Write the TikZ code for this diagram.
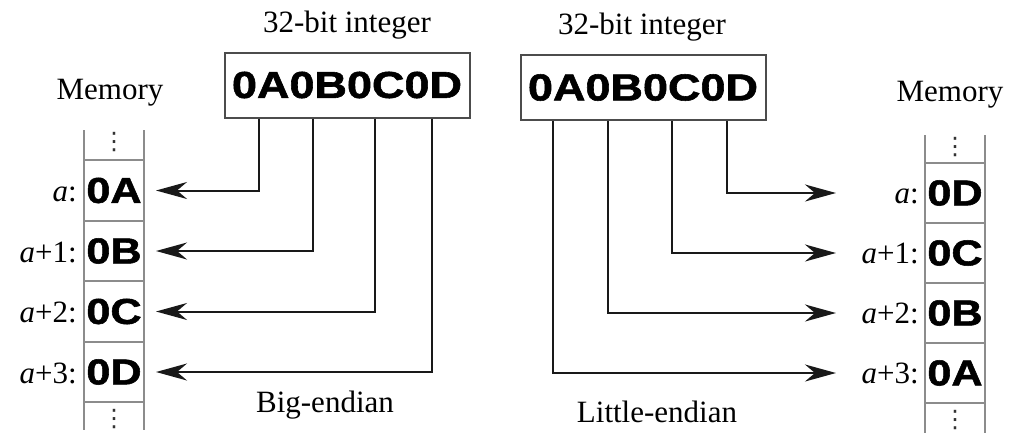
\documentclass[tikz,border=0pt]{standalone}
\usepackage{fontspec}
\setmainfont{Liberation Serif}
\newfontfamily\hexfont{Liberation Sans}[FakeStretch=1.2, BoldFeatures={FakeBold=1.5}]
\newfontfamily\symfont{DejaVu Sans}
\usetikzlibrary{arrows.meta}
\begin{document}
\begin{tikzpicture}[x=1pt,y=-1pt,
  ttl/.style={font=\fontsize{31}{36}\selectfont, inner sep=0pt},
  hexfnt/.style={font=\hexfont\bfseries\fontsize{36}{40}\selectfont},
  intbox/.style={hexfnt, font=\hexfont\bfseries\fontsize{37.5}{40}\selectfont, draw=black!70, line width=2pt, minimum width=245pt, minimum height=65pt, inner sep=0pt},
  cell/.style={hexfnt, draw=black!45, line width=2pt, minimum width=60pt, minimum height=60.5pt, inner sep=0pt},
  rail/.style={draw=black!45, line width=2pt},
  dotsnode/.style={inner sep=0pt, text=black!80, font=\symfont\fontsize{24}{24}\selectfont},
  conn/.style={line width=2pt, black!90, -{Stealth[length=31pt,width=17pt,inset=10pt]}}
]
\useasboundingbox (0,0) rectangle (1013,437);

% ---------- Big-endian (left) ----------
\node[ttl] (bigttl) at (347,25) {32-bit integer};
\node[intbox] (bigint) at (347,85) {0A0B0C0D};
\node[ttl] (memL) at (110,93) {Memory};

\node[cell] (L0) at (114,190.5) {0A};
\node[cell] (L1) at (114,251) {0B};
\node[cell] (L2) at (114,311.5) {0C};
\node[cell] (L3) at (114,372) {0D};
\coordinate (Ltopl) at (84,130);
\coordinate (Ltopr) at (144,130);
\coordinate (Lbotl) at (84,430);
\coordinate (Lbotr) at (144,430);
\draw[rail] (Ltopl) -- (Lbotl);
\draw[rail] (Ltopr) -- (Lbotr);
\node[dotsnode] (Ldt) at (114,142) {⋮};
\node[dotsnode] (Ldb) at (114,419) {⋮};

\node[ttl, anchor=base east] (la0) at ([xshift=-6pt,yshift=-11pt]L0.west) {\textit{a}:};
\node[ttl, anchor=base east] (la1) at ([xshift=-6pt,yshift=-11pt]L1.west) {\textit{a}+1:};
\node[ttl, anchor=base east] (la2) at ([xshift=-6pt,yshift=-11pt]L2.west) {\textit{a}+2:};
\node[ttl, anchor=base east] (la3) at ([xshift=-6pt,yshift=-11pt]L3.west) {\textit{a}+3:};

\draw[conn, shorten >=11pt] ([xshift=-88pt]bigint.south) |- (L0.east);
\draw[conn, shorten >=11pt] ([xshift=-34pt]bigint.south) |- (L1.east);
\draw[conn, shorten >=11pt] ([xshift=28pt]bigint.south) |- (L2.east);
\draw[conn, shorten >=11pt] ([xshift=85pt]bigint.south) |- (L3.east);

\node[ttl] (bigcap) at (325,405) {Big-endian};

% ---------- Little-endian (right) ----------
\node[ttl] (litttl) at (642,27) {32-bit integer};
\node[intbox] (litint) at (643,87.5) {0A0B0C0D};
\node[ttl] (memR) at (950,95) {Memory};

\node[cell] (R0) at (955,193) {0D};
\node[cell] (R1) at (955,253) {0C};
\node[cell] (R2) at (955,313) {0B};
\node[cell] (R3) at (955,373) {0A};
\coordinate (Rtopl) at (925,135);
\coordinate (Rtopr) at (985,135);
\coordinate (Rbotl) at (925,433);
\coordinate (Rbotr) at (985,433);
\draw[rail] (Rtopl) -- (Rbotl);
\draw[rail] (Rtopr) -- (Rbotr);
\node[dotsnode] (Rdt) at (955,147) {⋮};
\node[dotsnode] (Rdb) at (955,420) {⋮};

\node[ttl, anchor=base east] (ra0) at ([xshift=-5pt,yshift=-10pt]R0.west) {\textit{a}:};
\node[ttl, anchor=base east] (ra1) at ([xshift=-5pt,yshift=-10pt]R1.west) {\textit{a}+1:};
\node[ttl, anchor=base east] (ra2) at ([xshift=-5pt,yshift=-10pt]R2.west) {\textit{a}+2:};
\node[ttl, anchor=base east] (ra3) at ([xshift=-5pt,yshift=-10pt]R3.west) {\textit{a}+3:};

\draw[conn, shorten >=88pt] ([xshift=84pt]litint.south) |- (R0.west);
\draw[conn, shorten >=88pt] ([xshift=29pt]litint.south) |- (R1.west);
\draw[conn, shorten >=88pt] ([xshift=-35pt]litint.south) |- (R2.west);
\draw[conn, shorten >=88pt] ([xshift=-90pt]litint.south) |- (R3.west);

\node[ttl] (litcap) at (657,412) {Little-endian};
\end{tikzpicture}
\end{document}
